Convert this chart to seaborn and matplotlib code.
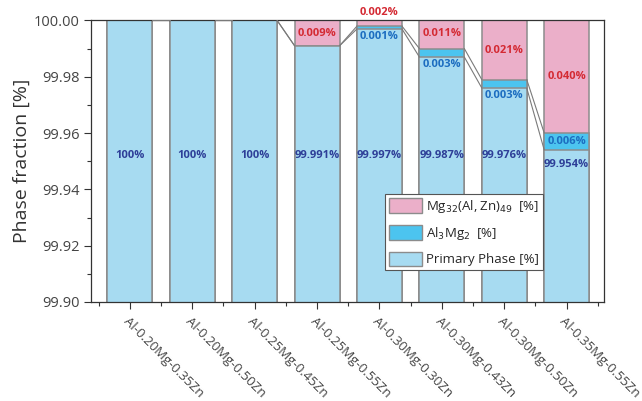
import numpy as np
import pandas as pd
import matplotlib
matplotlib.use("Agg")
import matplotlib.pyplot as plt
import seaborn as sns
from matplotlib.patches import Patch
from matplotlib.ticker import MultipleLocator

alloys = ["Al-0.20Mg-0.35Zn", "Al-0.20Mg-0.50Zn", "Al-0.25Mg-0.45Zn", "Al-0.25Mg-0.55Zn",
          "Al-0.30Mg-0.30Zn", "Al-0.30Mg-0.43Zn", "Al-0.30Mg-0.50Zn", "Al-0.35Mg-0.55Zn"]
primary = [100.0, 100.0, 100.0, 99.991, 99.997, 99.987, 99.976, 99.954]
al3mg2 = [0.0, 0.0, 0.0, 0.0, 0.001, 0.003, 0.003, 0.006]
mg32 = [0.0, 0.0, 0.0, 0.009, 0.002, 0.011, 0.021, 0.040]
primary_labels = ["100%", "100%", "100%", "99.991%", "99.997%", "99.987%", "99.976%", "99.954%"]
al3mg2_labels = ["", "", "", "", "0.001%", "0.003%", "0.003%", "0.006%"]
mg32_labels = ["", "", "", "0.009%", "0.002%", "0.011%", "0.021%", "0.040%"]
yticks = [99.90, 99.92, 99.94, 99.96, 99.98, 100.00]

c_prim = "#A7DBF1"
c_al = "#4CC4EF"
c_mg = "#EBAFC9"
edge = "#8C8C8C"

sns.set_theme(style="white")
plt.rcParams['font.family'] = ['Open Sans', 'DejaVu Sans']

cum1 = np.array(primary)
cum2 = cum1 + np.array(al3mg2)
cum3 = cum2 + np.array(mg32)

df = pd.DataFrame({"alloy": alloys, "cum1": cum1, "cum2": cum2, "cum3": cum3})

fig = plt.figure(figsize=(6.42, 4.01), dpi=100)
ax = fig.add_axes([0.142, 0.247, 0.799, 0.702])

width = 0.72
for col, color in [("cum3", c_mg), ("cum2", c_al), ("cum1", c_prim)]:
    sns.barplot(data=df, x="alloy", y=col, color=color, width=width,
                edgecolor=edge, linewidth=1.1, saturation=1, ax=ax)

ax.set_ylim(99.90, 100.00)
ax.set_xlim(-0.62, 7.6)
x = np.arange(len(alloys))

# connecting lines
for i in range(len(alloys) - 1):
    for c in (cum1, cum2):
        ax.plot([x[i] + width / 2, x[i + 1] - width / 2], [c[i], c[i + 1]],
                color="#7A7A7A", lw=0.8, zorder=5)

# labels
fs = 8
for i in range(len(alloys)):
    ty = 99.952 if cum1[i] > 99.96 else cum1[i] - 0.005
    ax.text(x[i], ty, primary_labels[i], ha="center", va="center",
            color="#2E3F98", fontsize=fs, fontweight="bold", zorder=6)
    if al3mg2_labels[i]:
        if al3mg2[i] >= 0.005:
            ay = (cum1[i] + cum2[i]) / 2
        else:
            ay = cum1[i] - 0.0028
        ax.text(x[i], ay, al3mg2_labels[i], ha="center", va="center",
                color="#1C6DC0", fontsize=fs, fontweight="bold", zorder=6)
    if mg32_labels[i]:
        if mg32[i] >= 0.005:
            my = (cum2[i] + cum3[i]) / 2
        else:
            my = cum3[i] + 0.003
        ax.text(x[i], my, mg32_labels[i], ha="center", va="center",
                color="#D42A33", fontsize=fs, fontweight="bold", zorder=6, clip_on=False)

ax.set_yticks(yticks)
ax.set_yticklabels([f"{v:.2f}" for v in yticks])
ax.yaxis.set_minor_locator(MultipleLocator(0.01))
ax.set_xticks(x)
ax.set_xticks(np.arange(-0.5, len(alloys), 1.0), minor=True)
ax.set_xticklabels(alloys, rotation=-45, ha="left", va="top", rotation_mode="anchor")
ax.tick_params(axis="both", which="major", direction="out", length=5, width=0.8,
               colors="#333333", labelsize=10.5, left=True, bottom=True)
ax.tick_params(axis="both", which="minor", direction="out", length=3, width=0.8,
               colors="#333333", left=True, bottom=True)
ax.tick_params(axis="x", labelsize=9.5, pad=4)
for lab in ax.get_xticklabels() + ax.get_yticklabels():
    lab.set_color("#444444")
for s in ax.spines.values():
    s.set_color("#333333")
    s.set_linewidth(0.9)

ax.set_xlabel("")
ax.set_ylabel("Phase fraction [%]", fontsize=14, color="#333333", labelpad=2)

handles = [Patch(facecolor=c_mg, edgecolor=edge, label=r"Mg$_{32}$(Al, Zn)$_{49}$  [%]"),
           Patch(facecolor=c_al, edgecolor=edge, label=r"Al$_3$Mg$_2$  [%]"),
           Patch(facecolor=c_prim, edgecolor=edge, label="Primary Phase [%]")]
leg = ax.legend(handles=handles, loc="lower left", bbox_to_anchor=(0.573, 0.112),
                fontsize=9.5, frameon=True, fancybox=False, framealpha=1,
                handlelength=2.5, handleheight=1.3, borderpad=0.3, labelspacing=0.75,
                handletextpad=0.3, borderaxespad=0)
leg.get_frame().set_edgecolor("#555555")
leg.get_frame().set_linewidth(0.8)
leg.set_zorder(10)

fig.savefig("out.png", dpi=100)
